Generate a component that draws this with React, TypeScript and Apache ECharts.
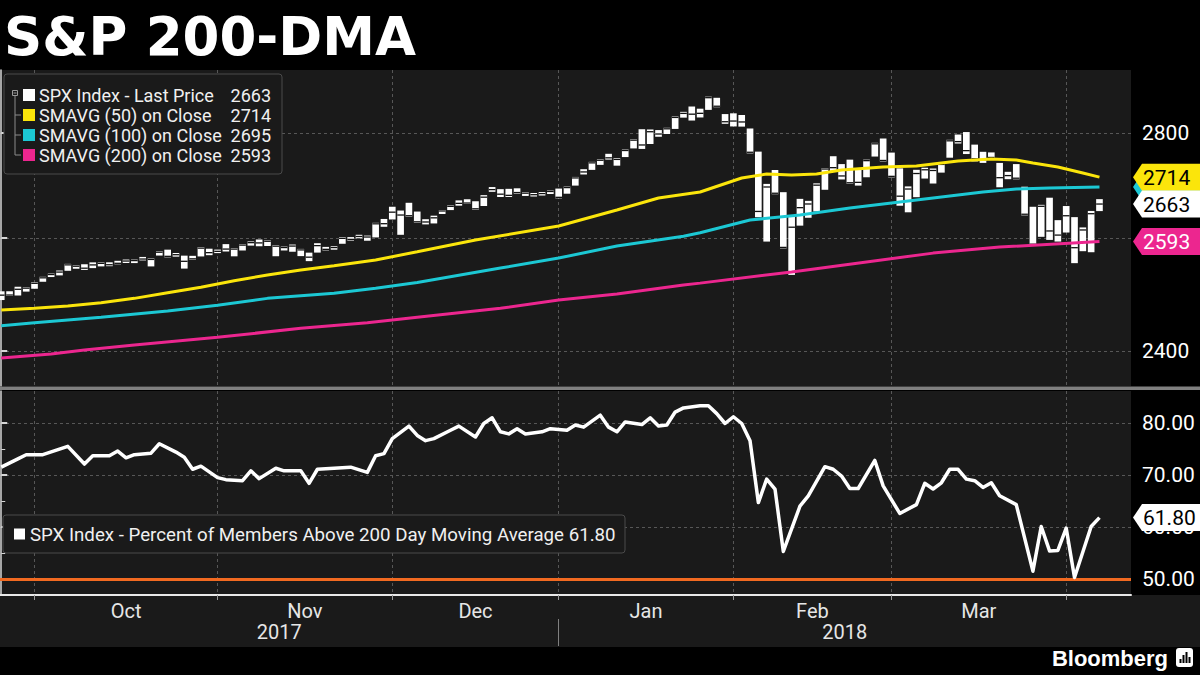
import React, { useEffect, useRef } from "react";
import * as echarts from "echarts";

// ---------- DATA ----------
const dates = [
  "2017-09-25","2017-09-26","2017-09-27","2017-09-28","2017-09-29",
  "2017-10-02","2017-10-03","2017-10-04","2017-10-05","2017-10-06","2017-10-09","2017-10-10","2017-10-11","2017-10-12","2017-10-13","2017-10-16","2017-10-17","2017-10-18","2017-10-19","2017-10-20","2017-10-23","2017-10-24","2017-10-25","2017-10-26","2017-10-27","2017-10-30","2017-10-31",
  "2017-11-01","2017-11-02","2017-11-03","2017-11-06","2017-11-07","2017-11-08","2017-11-09","2017-11-10","2017-11-13","2017-11-14","2017-11-15","2017-11-16","2017-11-17","2017-11-20","2017-11-21","2017-11-22","2017-11-24","2017-11-27","2017-11-28","2017-11-29","2017-11-30",
  "2017-12-01","2017-12-04","2017-12-05","2017-12-06","2017-12-07","2017-12-08","2017-12-11","2017-12-12","2017-12-13","2017-12-14","2017-12-15","2017-12-18","2017-12-19","2017-12-20","2017-12-21","2017-12-22","2017-12-26","2017-12-27","2017-12-28","2017-12-29",
  "2018-01-02","2018-01-03","2018-01-04","2018-01-05","2018-01-08","2018-01-09","2018-01-10","2018-01-11","2018-01-12","2018-01-16","2018-01-17","2018-01-18","2018-01-19","2018-01-22","2018-01-23","2018-01-24","2018-01-25","2018-01-26","2018-01-29","2018-01-30","2018-01-31",
  "2018-02-01","2018-02-02","2018-02-05","2018-02-06","2018-02-07","2018-02-08","2018-02-09","2018-02-12","2018-02-13","2018-02-14","2018-02-15","2018-02-16","2018-02-20","2018-02-21","2018-02-22","2018-02-23","2018-02-26","2018-02-27","2018-02-28",
  "2018-03-01","2018-03-02","2018-03-05","2018-03-06","2018-03-07","2018-03-08","2018-03-09","2018-03-12","2018-03-13","2018-03-14","2018-03-15","2018-03-16","2018-03-19","2018-03-20","2018-03-21","2018-03-22","2018-03-23","2018-03-26","2018-03-27","2018-03-28","2018-03-29",
  "2018-04-02","2018-04-03","2018-04-04","2018-04-05"
];

const highs = [
  2503.47,2503.51,2511.75,2510.81,2519.44,
  2529.23,2535.13,2540.53,2552.51,2549.99,2551.82,2555.23,2555.24,2555.33,2557.65,2559.71,2559.71,2564.11,2562.36,2575.44,2578.29,2572.18,2567.40,2567.07,2582.98,2580.03,2578.29,
  2588.40,2581.11,2588.42,2593.38,2597.02,2595.47,2586.50,2583.96,2587.66,2579.66,2572.84,2590.09,2583.19,2584.64,2601.19,2600.94,2604.21,2604.08,2627.69,2634.89,2657.74,
  2650.62,2665.19,2648.72,2634.41,2640.99,2651.65,2660.33,2669.72,2671.88,2668.09,2679.63,2694.97,2691.01,2691.62,2692.64,2685.35,2682.74,2685.64,2687.66,2692.12,
  2695.89,2714.37,2729.29,2743.45,2748.51,2759.14,2750.80,2767.56,2787.85,2807.54,2807.04,2805.83,2810.33,2833.03,2842.24,2852.97,2848.56,2872.87,2870.62,2837.75,2839.26,
  2835.96,2808.98,2763.39,2701.04,2727.67,2685.27,2638.67,2672.61,2668.84,2702.10,2731.51,2754.42,2739.14,2747.75,2731.26,2747.76,2780.64,2789.15,2761.52,
  2730.89,2696.25,2728.09,2732.08,2730.60,2740.45,2786.57,2796.98,2801.90,2777.11,2763.03,2761.85,2741.38,2724.22,2739.14,2695.68,2657.67,2661.36,2674.78,2632.65,2659.07,
  2638.30,2619.14,2649.86,2672.08
];

const lows = [
  2488.03,2495.12,2495.91,2502.93,2507.99,
  2520.40,2528.85,2531.80,2540.02,2543.79,2541.60,2544.86,2547.95,2548.31,2552.09,2554.69,2554.50,2559.67,2547.92,2567.56,2564.33,2565.58,2544.00,2559.80,2565.94,2568.25,2572.15,
  2574.92,2566.17,2576.77,2585.66,2584.35,2585.02,2566.33,2576.79,2574.48,2566.56,2557.45,2572.95,2577.08,2578.24,2589.05,2595.23,2600.50,2594.62,2600.69,2620.32,2633.93,
  2605.52,2639.03,2627.73,2624.75,2626.53,2644.10,2651.47,2659.78,2662.85,2652.01,2659.14,2685.92,2676.11,2676.20,2682.40,2678.13,2677.96,2678.91,2682.69,2673.61,
  2682.36,2697.77,2719.07,2727.92,2737.60,2747.86,2736.06,2752.78,2769.64,2768.64,2778.38,2792.56,2798.08,2808.12,2830.59,2824.81,2830.94,2846.18,2851.48,2818.27,2813.04,
  2812.70,2759.97,2638.17,2593.07,2681.33,2580.56,2532.69,2622.45,2637.08,2648.87,2689.82,2725.11,2709.54,2701.29,2697.77,2713.74,2753.78,2744.22,2713.54,
  2659.65,2647.32,2675.75,2711.26,2701.74,2722.65,2751.54,2779.26,2758.68,2744.38,2741.47,2749.97,2694.59,2710.05,2709.79,2641.59,2585.89,2601.81,2596.12,2593.06,2609.72,
  2553.80,2575.49,2573.61,2649.58
];

const closes = [
  2496.66,2496.84,2507.04,2510.06,2519.36,
  2529.12,2534.58,2537.74,2552.07,2549.33,2544.73,2550.64,2555.24,2550.93,2553.17,2557.64,2559.36,2561.26,2562.10,2575.21,2564.98,2569.13,2557.15,2560.40,2581.07,2572.83,2575.26,
  2579.36,2579.85,2587.84,2591.13,2590.64,2594.38,2584.62,2582.30,2584.84,2578.87,2564.62,2585.64,2578.85,2582.14,2599.03,2597.08,2602.42,2601.42,2627.04,2626.07,2647.58,
  2642.22,2639.44,2629.57,2629.27,2636.98,2651.50,2659.99,2664.11,2662.85,2652.01,2675.81,2690.16,2681.47,2679.25,2684.57,2683.34,2680.50,2682.62,2687.54,2673.61,
  2695.81,2713.06,2723.99,2743.15,2747.71,2751.29,2748.23,2767.56,2786.24,2776.42,2802.56,2798.03,2810.30,2832.97,2839.13,2837.54,2839.25,2872.87,2853.53,2822.43,2823.81,
  2821.98,2762.13,2648.94,2695.14,2681.66,2581.00,2619.55,2656.00,2662.94,2698.63,2731.20,2732.22,2716.26,2701.33,2703.96,2747.30,2779.60,2744.28,2713.83,
  2677.67,2691.25,2720.94,2728.12,2726.80,2738.97,2786.57,2783.02,2765.31,2749.48,2747.33,2752.01,2712.92,2716.94,2711.93,2643.69,2588.26,2658.55,2612.62,2605.00,2640.87,
  2581.88,2614.45,2644.69,2662.84
];

// moving averages, read at sampled trading-day indices
const sma50Idx = [0,4,8,12,16,20,24,28,32,36,40,45,50,57,67,74,79,84,89,92,95,98,101,106,110,115,119,122,124,127,130,132];
const sma50Val = [2470.5,2473.5,2477.6,2483.4,2491,2501,2510.5,2522.3,2532.5,2541.4,2549.2,2559.5,2574.5,2595.9,2621.8,2651.6,2674.2,2685.6,2712.3,2720,2718,2720,2727.7,2733.5,2735.4,2745.1,2749,2747,2741.2,2733.5,2721.9,2714];

const sma100Idx = [0,4,12,20,26,32,40,45,50,60,67,74,82,84,90,96,102,106,112,118,122,126,132];
const sma100Val = [2443.3,2448.5,2457.8,2468.8,2479,2491,2499.9,2508.8,2519,2545,2563,2585,2603,2609.4,2632.9,2642.2,2655.4,2662.9,2674.2,2685.6,2691.3,2693.2,2695];

const sma200Idx = [0,6,10,16,26,36,44,50,60,67,74,82,84,95,104,112,120,132];
const sma200Val = [2388.1,2394.9,2401.6,2410.2,2423.3,2438.8,2448.5,2457.8,2473.5,2488,2498.7,2514.5,2518,2537.9,2555.9,2572,2583.1,2593];

// percent of members above 200 DMA
const pctIdx = [0,2,3,5,8,10,11,13,14,15,16,18,19,21,22,23,24,26,27,29,30,31,33,34,36,37,38,40,42,44,45,46,47,49,50,51,52,54,55,57,58,59,60,61,62,63,65,66,68,69,70,72,73,74,75,77,78,79,80,81,82,84,85,86,87,88,89,90,91,92,93,94,96,97,99,100,101,102,103,105,106,108,110,111,112,113,114,115,116,117,118,119,120,122,124,125,126,127,128,129,131,132];
const pctVal = [71.5,73.1,73.9,73.9,75.5,72.1,73.7,73.7,74.6,73.3,73.9,74.2,76.0,74.4,73.4,71.1,71.7,69.5,69.1,68.9,70.8,69.3,71.3,70.8,70.8,68.4,71.1,71.3,71.5,70.5,73.7,74.1,77.0,79.4,77.6,76.6,77.0,78.6,79.4,77.3,79.9,81.0,78.3,77.9,78.9,77.9,78.3,78.9,78.6,79.6,79.2,81.5,79.2,78.3,80.2,79.7,81.0,79.4,79.6,82.1,82.9,83.3,83.3,81.8,79.9,81.2,79.9,76.6,64.7,69.2,67.3,55.3,64.0,66.0,71.6,71.1,69.8,67.4,67.4,72.8,67.9,62.6,64.3,68.4,67.3,68.5,71.1,71.1,69.2,68.9,67.6,68.5,66.0,64.3,51.5,60.1,55.4,55.5,59.8,50.3,60.1,61.8];

const priceTicks = [2400, 2600, 2800];
const priceLabels = [2400, 2800];
const pctTicks = [50, 60, 70, 80];
const pctMinorTicks = [55, 65, 75];
const pctThreshold = 50;
const monthNames = ["Oct", "Nov", "Dec", "Jan", "Feb", "Mar"];
const yearNames = ["2017", "2018"];

const lastPrice = closes[closes.length - 1];
const last50 = sma50Val[sma50Val.length - 1];
const last100 = sma100Val[sma100Val.length - 1];
const last200 = sma200Val[sma200Val.length - 1];
const lastPct = pctVal[pctVal.length - 1];

// ---------- layout ----------
const FONT = 'Roboto, "Liberation Sans", Arial, sans-serif';
const PLOT_BG = "#1a1a1a";
const GRID_W = 1131;
const X_MIN = -0.15;
const X_MAX = 135.79;
const P_MIN = 2341.3;
const P_MAX = 2927.6;

export default function App() {
  const ref = useRef<HTMLDivElement>(null);

  useEffect(() => {
    const el = ref.current!;
    const chart = echarts.init(el, null, { renderer: "svg" });

    // month-end indices derived from the date list
    const monthEnds: number[] = [];
    for (let i = 0; i < dates.length - 1; i++) {
      if (dates[i].slice(5, 7) !== dates[i + 1].slice(5, 7)) monthEnds.push(i);
    }
    const monthMids: number[] = [];
    for (let k = 0; k < monthEnds.length - 1; k++) monthMids.push((monthEnds[k] + monthEnds[k + 1]) / 2);
    const yearSplit = monthEnds[3];
    const yearMids = [(X_MIN + yearSplit) / 2, (yearSplit + X_MAX) / 2];

    const nearestName = (v: number, pos: number[], names: string[]) => {
      let best = 0;
      for (let k = 1; k < pos.length; k++) if (Math.abs(pos[k] - v) < Math.abs(pos[best] - v)) best = k;
      return names[best];
    };

    const ohlc = closes.map((c, i) => [i, Math.log(highs[i]), Math.log(lows[i]), Math.log(c)]);
    const toLine = (idx: number[], val: number[]) => idx.map((x, k) => [x, Math.log(val[k])]);
    const pctData = pctIdx.map((x, k) => [x, pctVal[k]]);
    const priceTicksLog = priceTicks.map((v) => Math.log(v));
    const priceLabelsLog = priceLabels.map((v) => Math.log(v));

    const dashed = { show: true, lineStyle: { color: "#575757", type: [3, 3] as any, width: 1 } };
    const axisTxt = { color: "#ffffff", fontSize: 21, fontFamily: FONT };

    const smaLine = (name: string, data: number[][], color: string) => ({
      name,
      type: "line",
      xAxisIndex: 0,
      yAxisIndex: 0,
      data,
      showSymbol: false,
      symbol: "none",
      z: 4,
      lineStyle: { color, width: 3 },
      silent: true,
    });

    const option: any = {
      animation: false,
      backgroundColor: "#000000",
      grid: [
        { left: 0, top: 70, width: GRID_W, height: 316, show: true, backgroundColor: PLOT_BG, borderWidth: 0, containLabel: false, outerBoundsMode: "none" },
        { left: 0, top: 391, width: GRID_W, height: 204, show: true, backgroundColor: PLOT_BG, borderWidth: 0, containLabel: false, outerBoundsMode: "none" },
      ],
      xAxis: [
        {
          type: "value", gridIndex: 0, min: X_MIN, max: X_MAX,
          axisLine: { show: false },
          axisTick: { show: false, customValues: monthEnds },
          axisLabel: { show: false },
          splitLine: dashed,
        },
        {
          type: "value", gridIndex: 1, min: X_MIN, max: X_MAX, position: "bottom",
          axisLine: { show: true, onZero: false, lineStyle: { color: "#e8e8e8", width: 2 } },
          axisTick: { show: true, customValues: monthEnds, length: 5, lineStyle: { color: "#9a9a9a", width: 1 } },
          axisLabel: {
            customValues: monthMids, margin: 6, color: "#e6e6e6", fontSize: 20, fontFamily: FONT,
            formatter: (v: number) => nearestName(v, monthMids, monthNames),
          },
          splitLine: dashed,
        },
        {
          type: "value", gridIndex: 1, min: X_MIN, max: X_MAX, position: "bottom", offset: 24,
          axisLine: { show: false, onZero: false },
          axisTick: { show: true, customValues: [yearSplit], length: 27, lineStyle: { color: "#808080", width: 1 } },
          axisLabel: {
            customValues: yearMids, margin: 3, color: "#e6e6e6", fontSize: 20, fontFamily: FONT,
            formatter: (v: number) => nearestName(v, yearMids, yearNames),
          },
          splitLine: { show: false },
        },
      ],
      yAxis: [
        {
          type: "value", gridIndex: 0, position: "right",
          min: Math.log(P_MIN), max: Math.log(P_MAX),
          axisLine: { show: true, lineStyle: { color: "#d6d6d6", width: 1.5 } },
          axisTick: { show: true, customValues: priceTicksLog, length: 6, lineStyle: { color: "#d6d6d6", width: 2 } },
          axisLabel: { ...axisTxt, customValues: priceLabelsLog, margin: 11, formatter: (v: number) => String(Math.round(Math.exp(v))) },
          splitLine: dashed,
        },
        {
          type: "value", gridIndex: 1, position: "right", min: 46.92, max: 86.15,
          axisLine: { show: true, lineStyle: { color: "#d6d6d6", width: 1.5 } },
          axisTick: { show: true, customValues: pctTicks, length: 6, lineStyle: { color: "#d6d6d6", width: 2 } },
          axisLabel: { ...axisTxt, customValues: pctTicks, margin: 11, formatter: (v: number) => v.toFixed(2) },
          splitLine: dashed,
        },
        {
          type: "value", gridIndex: 1, position: "right", min: 46.92, max: 86.15,
          axisLine: { show: false },
          axisTick: { show: true, customValues: pctMinorTicks, length: 4, lineStyle: { color: "#d6d6d6", width: 1 } },
          axisLabel: { show: false },
          splitLine: { show: false },
        },
      ],
      series: [
        {
          name: "SPX Index",
          type: "custom",
          xAxisIndex: 0,
          yAxisIndex: 0,
          data: ohlc,
          encode: { x: 0, y: [1, 2, 3] },
          clip: true,
          z: 3,
          silent: true,
          renderItem: (params: any, api: any) => {
            const i = api.value(0);
            const pH = api.coord([i, api.value(1)]);
            const pL = api.coord([i, api.value(2)]);
            const pC = api.coord([i, api.value(3)]);
            const w = api.size([1, 0])[0] * 0.8;
            let top = pH[1];
            let bot = pL[1];
            if (bot - top < 3.5) {
              const m = (top + bot) / 2;
              top = m - 1.75;
              bot = m + 1.75;
            }
            const cy = Math.min(Math.max(pC[1], top + 1), bot - 1);
            return {
              type: "group",
              children: [
                { type: "rect", shape: { x: pH[0] - w / 2, y: top, width: w, height: bot - top }, style: { fill: "#ffffff" } },
                { type: "line", shape: { x1: pH[0] - w / 2, y1: cy, x2: pH[0] + w / 2, y2: cy }, style: { stroke: "#111111", lineWidth: 1.3 } },
              ],
            };
          },
        },
        smaLine("SMAVG (200)", toLine(sma200Idx, sma200Val), "#ec268f"),
        smaLine("SMAVG (100)", toLine(sma100Idx, sma100Val), "#1cc8d4"),
        smaLine("SMAVG (50)", toLine(sma50Idx, sma50Val), "#fbe50b"),
        {
          name: "Percent above 200DMA",
          type: "line",
          xAxisIndex: 1,
          yAxisIndex: 1,
          data: pctData,
          showSymbol: false,
          symbol: "none",
          z: 4,
          silent: true,
          lineStyle: { color: "#ffffff", width: 3.5, join: "round" },
          markLine: {
            silent: true,
            symbol: ["none", "none"],
            label: { show: false },
            lineStyle: { color: "#f26a21", width: 3, type: "solid" },
            data: [{ yAxis: pctThreshold }],
            z: 3,
          },
        },
      ],
      graphic: [],
    };

    // static graphics
    const txt = (id: string, x: number, y: number, text: string, font: string, fill: string, align = "left", z = 100) => ({
      type: "text", id, x, y, z,
      style: { text, font, fill, align, textAlign: align, verticalAlign: "middle", textVerticalAlign: "middle" },
    });
    const legFont = `18px ${FONT}`;
    const leg2Font = `18.7px ${FONT}`;
    const rows = [95, 115, 135, 155];
    const legItems = [
      { name: "SPX Index - Last Price", value: String(Math.round(lastPrice)), color: "#ffffff" },
      { name: "SMAVG (50) on Close", value: String(Math.round(last50)), color: "#fbe50b" },
      { name: "SMAVG (100) on Close", value: String(Math.round(last100)), color: "#1cc8d4" },
      { name: "SMAVG (200) on Close", value: String(Math.round(last200)), color: "#ec268f" },
    ];

    const graphics: any[] = [
      { type: "rect", id: "band", z: -10, shape: { x: 0, y: 595, width: 1200, height: 52 }, style: { fill: PLOT_BG } },
      { type: "rect", id: "sep", z: 60, shape: { x: 0, y: 386.5, width: 1200, height: 3.5 }, style: { fill: "#808080" } },
      txt("title", 4, 36, "S&P 200-DMA", 'bold 53px "DejaVu Sans", Verdana, sans-serif', "#ffffff"),
      { type: "rect", id: "legbox", z: 90, shape: { x: 4, y: 74, width: 278, height: 100, r: 3 }, style: { fill: PLOT_BG, stroke: "#4a4a4a", lineWidth: 1 } },
      { type: "rect", id: "treebox", z: 100, shape: { x: 12.5, y: 90.5, width: 5, height: 5 }, style: { fill: "none", stroke: "#9a9a9a", lineWidth: 1 } },
      { type: "line", id: "treeminus", z: 100, shape: { x1: 13.5, y1: 93, x2: 16.5, y2: 93 }, style: { stroke: "#9a9a9a", lineWidth: 1 } },
      { type: "polyline", id: "treev", z: 100, shape: { points: [[15, 96], [15, rows[3]], [21, rows[3]]] }, style: { fill: "none", stroke: "#8a8a8a", lineWidth: 1 } },
      { type: "line", id: "treeb1", z: 100, shape: { x1: 15, y1: rows[1], x2: 21, y2: rows[1] }, style: { stroke: "#8a8a8a", lineWidth: 1 } },
      { type: "line", id: "treeb2", z: 100, shape: { x1: 15, y1: rows[2], x2: 21, y2: rows[2] }, style: { stroke: "#8a8a8a", lineWidth: 1 } },
      { type: "rect", id: "leg2box", z: 90, shape: { x: 3, y: 515, width: 622, height: 38, r: 3 }, style: { fill: PLOT_BG, stroke: "#4a4a4a", lineWidth: 1 } },
      { type: "rect", id: "leg2sq", z: 100, shape: { x: 14, y: 528.5, width: 11, height: 11 }, style: { fill: "#ffffff" } },
      txt("leg2txt", 30, 534.5, `SPX Index - Percent of Members Above 200 Day Moving Average ${lastPct.toFixed(2)}`, leg2Font, "#f0f0f0"),
      txt("bbg", 1168, 658, "Bloomberg", 'bold 22px "Liberation Sans", Arial, sans-serif', "#ffffff", "right"),
      { type: "rect", id: "bbgicon", z: 100, shape: { x: 1176, y: 648, width: 17, height: 19, r: 3 }, style: { fill: "#ffffff" } },
      { type: "rect", id: "bbgb1", z: 101, shape: { x: 1179.5, y: 659, width: 2, height: 4 }, style: { fill: "#000" } },
      { type: "rect", id: "bbgb2", z: 101, shape: { x: 1182.5, y: 655, width: 2, height: 8 }, style: { fill: "#000" } },
      { type: "rect", id: "bbgb3", z: 101, shape: { x: 1185.5, y: 652, width: 2, height: 11 }, style: { fill: "#000" } },
      { type: "rect", id: "bbgb4", z: 101, shape: { x: 1188.5, y: 657, width: 2, height: 6 }, style: { fill: "#000" } },
    ];
    legItems.forEach((it, k) => {
      graphics.push({ type: "rect", id: "legsq" + k, z: 100, shape: { x: 23, y: rows[k] - 6, width: 12, height: 12 }, style: { fill: it.color } });
      graphics.push(txt("legn" + k, 39, rows[k], it.name, legFont, "#f0f0f0"));
      graphics.push(txt("legv" + k, 271, rows[k], it.value, legFont, "#f0f0f0", "right"));
    });
    option.graphic = graphics;
    chart.setOption(option);

    // value tags on the right axes, placed through the axes' own scales
    const tag = (id: string, y: number, fill: string, color: string, label: string, z: number) => ({
      type: "group", id, z,
      children: [
        { type: "polygon", z, shape: { points: [[1133, y], [1142, y - 13.5], [1200, y - 13.5], [1200, y + 13.5], [1142, y + 13.5]] }, style: { fill } },
        { type: "text", z: z + 1, x: 1143, y: y + 0.5, style: { text: label, font: `21px ${FONT}`, fill: color, align: "left", textAlign: "left", verticalAlign: "middle", textVerticalAlign: "middle" } },
      ],
    });
    const py = (v: number) => chart.convertToPixel({ yAxisIndex: 0 } as any, Math.log(v)) as number;
    const qy = (v: number) => chart.convertToPixel({ yAxisIndex: 1 } as any, v) as number;
    const cyanY = py(last100);
    chart.setOption({
      graphic: [
        ...graphics,
        // the cyan tag sits behind its neighbours; only its arrow tip shows, as in the reference
        {
          type: "polygon", id: "tag100", z: 120,
          shape: { points: [[1133, cyanY], [1142, cyanY - 13.5], [1200, cyanY - 13.5], [1200, cyanY + 13.5], [1142, cyanY + 13.5]] },
          style: { fill: "#1cc8d4" },
        },
        tag("tag50", py(last50), "#fbe50b", "#000000", String(Math.round(last50)), 130),
        tag("tagpx", py(lastPrice), "#ffffff", "#000000", String(Math.round(lastPrice)), 140),
        tag("tag200", py(last200), "#ec268f", "#ffffff", String(Math.round(last200)), 150),
        tag("tagpct", qy(lastPct), "#ffffff", "#000000", lastPct.toFixed(2), 160),
      ],
    });

    return () => chart.dispose();
  }, []);

  return <div ref={ref} style={{ position: "fixed", left: 0, top: 0, width: 1200, height: 675 }} />;
}
